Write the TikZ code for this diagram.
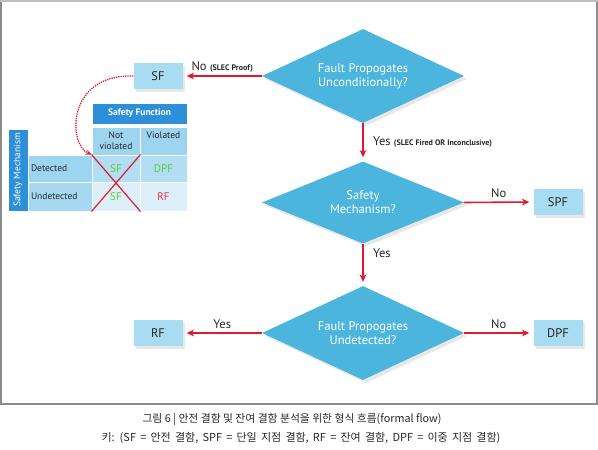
\documentclass[tikz,border=0pt]{standalone}
\usepackage{fontspec}
\setmainfont{PT Sans}
\newfontfamily\krfont{Noto Sans CJK KR}
\usetikzlibrary{arrows.meta,shapes.geometric,shadows}
\definecolor{diablue}{RGB}{75,181,222}
\definecolor{boxblue}{RGB}{168,220,242}
\definecolor{hdrblue}{RGB}{46,143,217}
\definecolor{cellA}{RGB}{157,212,240}
\definecolor{cellB}{RGB}{179,221,243}
\definecolor{cellC}{RGB}{166,216,241}
\definecolor{cellD}{RGB}{221,240,250}
\definecolor{arrowred}{RGB}{224,25,45}
\definecolor{sfgreen}{RGB}{85,204,51}
\definecolor{rfred}{RGB}{224,48,64}

\begin{document}
\begin{tikzpicture}[x=1pt,y=-1pt,>={Stealth[length=2.6mm,width=2.4mm]},
  decision/.style={diamond,aspect=2.15,fill=diablue,inner sep=0pt,minimum width=202pt,minimum height=94pt,text=white,align=center,font=\fontsize{12.5}{14}\selectfont,drop shadow={shadow xshift=3pt,shadow yshift=-3pt,fill=black!18}},
  result/.style={rectangle,fill=boxblue,minimum width=49pt,minimum height=26pt,inner sep=0pt,text=black!85,font=\fontsize{12.5}{13}\selectfont,drop shadow={shadow xshift=2.5pt,shadow yshift=-2.5pt,fill=black!18}},
  flow/.style={->,draw=arrowred,line width=1.6pt,shorten >=4pt},
  lbl/.style={text=black!85,font=\fontsize{12.5}{13}\selectfont},
  tcell/.style={rectangle,draw=white,line width=1pt,inner sep=0pt,align=center,text=black!85,font=\fontsize{9.5}{11}\selectfont},
  tval/.style={tcell,font=\fontsize{11}{12}\selectfont}]
  \useasboundingbox (0,0) rectangle (598,450);
  % frame
  \draw[black!45,line width=1.2pt] (1,1) rectangle (597,404);
  \draw[black!25,line width=2pt] (0,1) -- (598,1);

  % decisions and results
  \node[decision] (fpu) at (363,76) {Fault Propogates\\Unconditionally?};
  \node[decision,minimum height=82pt] (smq) at (363,202.5) {Safety\\Mechanism?};
  \node[decision] (fpd) at (363,333) {Fault Propogates\\Undetected?};
  \node[result] (sf) at (158,76) {SF};
  \node[result] (spf) at (558,202) {SPF};
  \node[result] (rf) at (158,333) {RF};
  \node[result] (dpf) at (558,333) {DPF};

  \draw[flow] (fpu.west) -- node[above,lbl] {No {\fontsize{8}{9}\selectfont\bfseries(SLEC Proof)}} (sf.east);
  \draw[flow] (fpu.south) -- node[right,lbl,xshift=6pt] {Yes {\fontsize{8}{9}\selectfont\bfseries(SLEC Fired OR Inconclusive)}} (smq.north);
  \draw[flow] (smq.east) -- node[above,lbl] {No} (spf.west);
  \draw[flow] (smq.south) -- node[right,lbl,pos=0.23,xshift=6pt] {Yes} (fpd.north);
  \draw[flow] (fpd.west) -- node[above,lbl] {Yes} (rf.east);
  \draw[flow] (fpd.east) -- node[above,lbl] {No} (dpf.west);

  % table
  \node[tcell,fill=hdrblue,text=white,font=\fontsize{9.5}{11}\selectfont\bfseries,minimum width=95pt,minimum height=21pt] (sfn) at (139.5,113.5) {Safety Function};
  \node[tcell,fill=cellA,minimum width=48pt,minimum height=28pt] (nv) at (116,141) {Not\\violated};
  \node[tcell,fill=cellA,minimum width=47pt,minimum height=28pt] (vio) at (163.5,141) {Violated\\\mbox{}};
  \node[tcell,fill=hdrblue,text=white,rotate=90,minimum width=82pt,minimum height=20pt] (smc) at (18,170) {Safety Mechanism};
  \node[tcell,fill=cellA,minimum width=64pt,minimum height=27pt,text width=58pt,align=left] (det) at (60,168.5) {Detected\\[2pt]};
  \node[tval,fill=cellB,minimum width=48pt,minimum height=27pt,text=sfgreen] (dsf) at (116,168.5) {SF};
  \node[tval,fill=cellB,minimum width=47pt,minimum height=27pt,text=sfgreen] (ddpf) at (163.5,168.5) {DPF};
  \node[tcell,fill=cellC,minimum width=64pt,minimum height=29pt,text width=58pt,align=left] (und) at (60,196.5) {Undetected\\[2pt]};
  \node[tval,fill=cellD,minimum width=48pt,minimum height=29pt,text=sfgreen] (usf) at (116,196.5) {SF};
  \node[tval,fill=cellD,minimum width=47pt,minimum height=29pt,text=rfred] (urf) at (163.5,196.5) {RF};

  \draw[draw=arrowred,line width=1.2pt] (dsf.north west) -- (usf.south east) (dsf.north east) -- (usf.south west);
  \draw[-{Stealth[length=2mm,width=1.8mm]},draw=arrowred,densely dotted,line width=1.3pt] (sf.west) .. controls (66,74) and (68,145) .. (dsf.north west);

  % caption
  \node[font=\krfont\fontsize{10.8}{12}\selectfont,text=black!85] (cap1) at (292,419) {그림 6 | 안전 결함 및 잔여 결함 분석을 위한 형식 흐름(formal flow)};
  \node[font=\krfont\fontsize{11}{12}\selectfont,text=black!85] (cap2) at (301,438) {\spaceskip=4.2pt plus 1pt 키: (SF = 안전 결함, SPF = 단일 지점 결함, RF = 잔여 결함, DPF = 이중 지점 결함)};
\end{tikzpicture}
\end{document}
